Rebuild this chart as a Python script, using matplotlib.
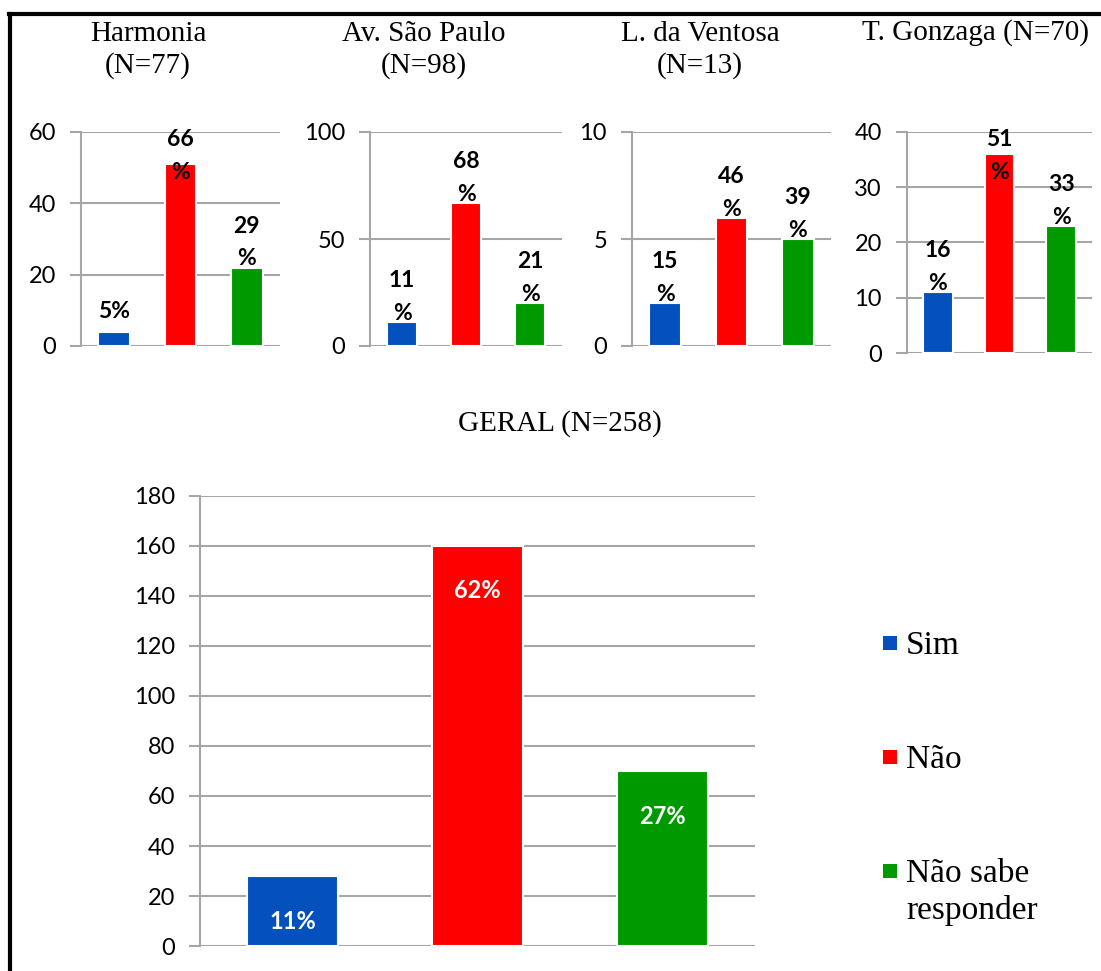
import numpy as np
import matplotlib
matplotlib.use("Agg")
import matplotlib.pyplot as plt
from matplotlib.lines import Line2D
from matplotlib.patches import Rectangle

W, H = 1101, 971

categories = ["Sim", "Não", "Não sabe\nresponder"]
colors = ["#0451BD", "#FF0000", "#009A00"]

sites = ["Harmonia\n(N=77)", "Av. São Paulo\n(N=98)", "L. da Ventosa\n(N=13)", "T. Gonzaga (N=70)"]
site_counts = [
    [4, 51, 22],
    [11, 67, 20],
    [2, 6, 5],
    [11, 36, 23],
]
site_pcts = [
    ["5%", "66%", "29%"],
    ["11%", "68%", "21%"],
    ["15%", "46%", "39%"],
    ["16%", "51%", "33%"],
]
site_ymax = [60, 100, 10, 40]
site_ystep = [20, 50, 5, 10]

geral_title = "GERAL (N=258)"
geral_counts = [28, 160, 70]
geral_pcts = ["11%", "62%", "27%"]

# axes boxes in pixels: left, top, right, bottom
site_boxes = [(81, 132, 280, 346), (370, 132, 562, 346), (632, 132, 831, 346), (907, 132, 1092, 353)]
site_title_xy = [(148, 50), (424, 50), (700, 50), (975, 33)]
geral_box = (200, 496, 755, 946)

serif = "Liberation Serif"
sans = "Lato"
grid_c = "#A6A6A6"


def rect(box):
    l, t, r, b = box
    return [l / W, 1 - b / H, (r - l) / W, (b - t) / H]


def style_axes(ax, ymax, ystep):
    ax.set_xlim(-0.5, 2.5)
    ax.set_ylim(0, ymax)
    ax.set_yticks(np.arange(0, ymax + ystep / 2, ystep))
    ax.set_xticks([])
    ax.yaxis.grid(True, color=grid_c, linewidth=1.5)
    ax.set_axisbelow(True)
    for s in ["top", "right", "bottom"]:
        ax.spines[s].set_visible(False)
    ax.spines["left"].set_color(grid_c)
    ax.spines["left"].set_linewidth(1.5)
    ax.tick_params(axis="y", length=8, width=1.5, color=grid_c, pad=10,
                   labelsize=17)
    for lab in ax.get_yticklabels():
        lab.set_fontfamily(sans)
    ax.patch.set_alpha(0)


fig = plt.figure(figsize=(W / 100, H / 100), dpi=100)

for k in range(4):
    ax = fig.add_axes(rect(site_boxes[k]))
    x = np.arange(3)
    ax.bar(x, site_counts[k], width=0.48, color=colors, edgecolor="white",
           linewidth=1.5, zorder=3)
    style_axes(ax, site_ymax[k], site_ystep[k])
    l, t, r, b = site_boxes[k]
    hpx = b - t
    for i, (v, p) in enumerate(zip(site_counts[k], site_pcts[k])):
        # narrow label boxes wrap the "%" onto its own line
        txt = p if len(p) <= 2 else p[:-1] + "\n%"
        n = txt.count("\n") + 1
        to_top = (site_ymax[k] - v) / site_ymax[k] * hpx
        off = min(10 + 21 * n, to_top + 3)
        ax.annotate(txt, (i, v), xytext=(0, off * 0.72), textcoords="offset points",
                    ha="center", va="top", fontsize=16.5, fontweight="bold",
                    fontfamily=sans, linespacing=1.7, zorder=5,
                    annotation_clip=False)
    tx, ty = site_title_xy[k]
    fig.text(tx / W, 1 - ty / H, sites[k], ha="center", va="center",
             fontsize=21, fontfamily=serif, linespacing=1.22)

ax = fig.add_axes(rect(geral_box))
x = np.arange(3)
bars = ax.bar(x, geral_counts, width=0.49, color=colors, edgecolor="white",
              linewidth=1.5, zorder=3)
style_axes(ax, 180, 20)
for i, (v, p) in enumerate(zip(geral_counts, geral_pcts)):
    ax.annotate(p, (i, v), xytext=(0, -45 * 0.72), textcoords="offset points",
                ha="center", va="center", color="white", fontsize=17,
                fontweight="bold", fontfamily=sans, zorder=5)
fig.text(560 / W, 1 - 424 / H, geral_title, ha="center", va="center",
         fontsize=21, fontfamily=serif)

# legend drawn by hand: square aligned with first line of each label
for i, (c, col) in enumerate(zip(categories, colors)):
    yc = 643 + 114 * i
    fig.add_artist(Rectangle((883 / W, 1 - (yc + 7) / H), 14 / W, 14 / H,
                             facecolor=col, edgecolor="none",
                             transform=fig.transFigure))
    fig.text(906 / W, 1 - (yc - 13) / H, c, ha="left", va="top",
             fontsize=24, fontfamily=serif, linespacing=1.25)

# black frame (top and left only visible)
fig.add_artist(Line2D([9 / W, 1], [1 - 14 / H, 1 - 14 / H], color="black", linewidth=3,
                      transform=fig.transFigure))
fig.add_artist(Line2D([10 / W, 10 / W], [1 - 14 / H, 0], color="black", linewidth=3,
                      transform=fig.transFigure))

fig.savefig("out.png", dpi=100)
